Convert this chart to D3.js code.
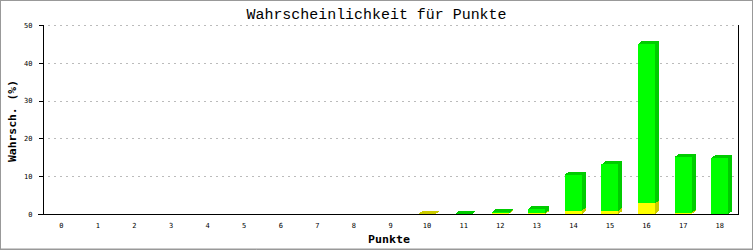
<!DOCTYPE html>
<html><head><meta charset="utf-8">
<script src="https://cdn.jsdelivr.net/npm/d3@7"></script>
<style>
html,body{margin:0;padding:0;background:#fff;}
svg{display:block;}
</style></head>
<body>
<script>
const categories = ["0","1","2","3","4","5","6","7","8","9","10","11","12","13","14","15","16","17","18"];
const yellowValues = [0,0,0,0,0,0,0,0,0,0,0.05,0,0.2,0.25,0.9,0.9,2.8,0.35,0];
const greenValues  = [0,0,0,0,0,0,0,0,0,0,0,0.05,0.25,1.15,9.5,12.2,42.2,14.75,14.8];
const yTicks = [0,10,20,30,40,50];
const title = "Wahrscheinlichkeit für Punkte";
const yLabel = "Wahrsch. (%)";
const xLabel = "Punkte";

const W = 753, H = 250;
const pLeft = 43, pRight = 738, pTop = 25, pBottom = 214;
const dx = 4, dy = 3;

const svg = d3.select("body").append("svg").attr("width", W).attr("height", H);
svg.append("rect").attr("x",0.5).attr("y",0.5).attr("width",W-1).attr("height",H-1.5)
  .attr("fill","#fff").attr("stroke","#999").attr("stroke-width",1);
svg.append("line").attr("x1",0).attr("x2",W).attr("y1",H-0.5).attr("y2",H-0.5).attr("stroke","#999");

const x = d3.scaleBand().domain(categories).range([pLeft, pRight]).paddingInner(0.535).paddingOuter(0.2675);
const y = d3.scaleLinear().domain([0, 50]).range([pBottom, pTop]);

// gridlines
svg.append("g").selectAll("line").data(yTicks.filter(t => t > 0)).join("line")
  .attr("x1", pLeft + 5).attr("x2", pRight - 4)
  .attr("y1", d => Math.round(y(d)) + 0.5).attr("y2", d => Math.round(y(d)) + 0.5)
  .attr("stroke", "#bbb").attr("stroke-dasharray", "2,4").attr("shape-rendering","crispEdges");

// bars
const bw = x.bandwidth();
function drawSeg(g, cat, v0, v1, front, shade, showTop) {
  const x0 = x(cat), x1 = x0 + bw;
  const yb = y(v0), yt = y(v1);
  g.append("rect").attr("x", x0).attr("y", yt).attr("width", bw).attr("height", Math.max(0, yb - yt))
    .attr("fill", front).attr("shape-rendering","crispEdges");
  g.append("polygon").attr("points", [[x1,yb],[x1+dx,yb-dy],[x1+dx,yt-dy],[x1,yt]].map(p=>p.join(",")).join(" "))
    .attr("fill", shade).attr("shape-rendering","crispEdges");
  if (showTop) {
    g.append("polygon").attr("points", [[x0,yt],[x0+dx,yt-dy],[x1+dx,yt-dy],[x1,yt]].map(p=>p.join(",")).join(" "))
      .attr("fill", shade).attr("shape-rendering","crispEdges");
  }
}
const bars = svg.append("g");
categories.forEach((c, i) => {
  const yv = yellowValues[i], gv = greenValues[i];
  const g = bars.append("g");
  if (yv > 0) drawSeg(g, c, 0, yv, "#ffff00", "#cccc00", gv <= 0);
  if (gv > 0) drawSeg(g, c, yv, yv + gv, "#00ff00", "#00cc00", true);
});

// axes
const yAxis = d3.axisLeft(y).tickValues(yTicks).tickSize(5).tickPadding(6).tickFormat(d3.format("d"));
const gy = svg.append("g").attr("transform", `translate(${pLeft + 0.5},0)`).call(yAxis);
gy.select(".domain").remove();
gy.selectAll(".tick line").attr("stroke","#000").attr("shape-rendering","crispEdges");
gy.selectAll("text").attr("font-family","'DejaVu Sans Mono', monospace").attr("font-size",7).attr("fill","#000");

svg.append("line").attr("x1", pLeft+0.5).attr("x2", pLeft+0.5).attr("y1", pTop).attr("y2", pBottom+0.5)
  .attr("stroke","#000").attr("shape-rendering","crispEdges");
svg.append("line").attr("x1", pRight+0.5).attr("x2", pRight+0.5).attr("y1", pTop).attr("y2", pBottom+0.5)
  .attr("stroke","#000").attr("shape-rendering","crispEdges");
svg.append("line").attr("x1", pLeft-5).attr("x2", pRight+1).attr("y1", pBottom+0.5).attr("y2", pBottom+0.5)
  .attr("stroke","#000").attr("shape-rendering","crispEdges");

const xAxis = d3.axisBottom(x).tickSize(0).tickPadding(9);
const gx = svg.append("g").attr("transform", `translate(0,${pBottom})`).call(xAxis);
gx.select(".domain").remove();
gx.selectAll("text").attr("font-family","'DejaVu Sans Mono', monospace").attr("font-size",7).attr("fill","#000");

// labels
svg.append("text").attr("x", 376.5).attr("y", 19).attr("text-anchor","middle")
  .attr("font-family","'Liberation Mono', monospace").attr("font-size",14)
  .attr("textLength",260).attr("lengthAdjust","spacingAndGlyphs").text(title);
svg.append("text").attr("transform","translate(16,121) rotate(-90)").attr("text-anchor","middle")
  .attr("font-family","'DejaVu Sans Mono', monospace").attr("font-weight","bold").attr("font-size",11)
  .attr("textLength",82).attr("lengthAdjust","spacingAndGlyphs").text(yLabel);
svg.append("text").attr("x", 389).attr("y", 243).attr("text-anchor","middle")
  .attr("font-family","'DejaVu Sans Mono', monospace").attr("font-weight","bold").attr("font-size",11)
  .attr("textLength",42).attr("lengthAdjust","spacingAndGlyphs").text(xLabel);
</script>
</body></html>
